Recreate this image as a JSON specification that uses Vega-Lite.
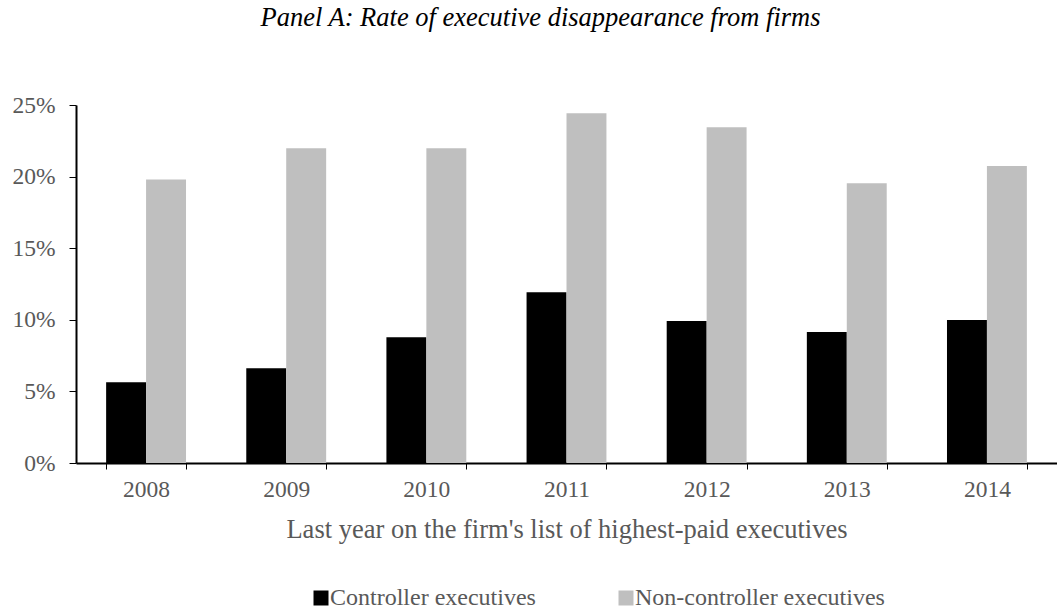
{
  "$schema": "https://vega.github.io/schema/vega-lite/v6.json",
  "autosize": "none",
  "padding": {"left": 76, "top": 105, "right": 0, "bottom": 149},
  "width": 981,
  "height": 358,
  "background": "white",
  "title": {
    "text": "Panel A: Rate of executive disappearance from firms",
    "font": "Liberation Serif",
    "fontStyle": "italic",
    "fontWeight": "normal",
    "fontSize": 26.5,
    "color": "#000000",
    "anchor": "middle",
    "dx": -26,
    "offset": 62
  },
  "data": {
    "values": [
      {"year": "2008", "group": "Controller executives", "rate": 0.0564},
      {"year": "2008", "group": "Non-controller executives", "rate": 0.198},
      {"year": "2009", "group": "Controller executives", "rate": 0.0661},
      {"year": "2009", "group": "Non-controller executives", "rate": 0.2198},
      {"year": "2010", "group": "Controller executives", "rate": 0.0878},
      {"year": "2010", "group": "Non-controller executives", "rate": 0.2198},
      {"year": "2011", "group": "Controller executives", "rate": 0.1192},
      {"year": "2011", "group": "Non-controller executives", "rate": 0.2442},
      {"year": "2012", "group": "Controller executives", "rate": 0.0992},
      {"year": "2012", "group": "Non-controller executives", "rate": 0.2344},
      {"year": "2013", "group": "Controller executives", "rate": 0.0915},
      {"year": "2013", "group": "Non-controller executives", "rate": 0.1953},
      {"year": "2014", "group": "Controller executives", "rate": 0.0999},
      {"year": "2014", "group": "Non-controller executives", "rate": 0.2074}
    ]
  },
  "mark": {"type": "bar"},
  "encoding": {
    "x": {
      "field": "year",
      "type": "nominal",
      "scale": {"paddingInner": 0.43, "paddingOuter": 0.215},
      "axis": {
        "title": "Last year on the firm's list of highest-paid executives",
        "labelAngle": 0,
        "tickBand": "extent",
        "domainColor": "#000000",
        "domainWidth": 2,
        "tickColor": "#000000",
        "tickSize": 6,
        "labelPadding": 8,
        "labelFont": "Liberation Serif",
        "labelFontSize": 23.5,
        "labelColor": "#595959",
        "titleFont": "Liberation Serif",
        "titleFontSize": 26.5,
        "titleFontWeight": "normal",
        "titleColor": "#595959",
        "titlePadding": 16
      }
    },
    "xOffset": {
      "field": "group",
      "type": "nominal",
      "sort": ["Controller executives", "Non-controller executives"]
    },
    "y": {
      "field": "rate",
      "type": "quantitative",
      "scale": {"domain": [0, 0.25], "nice": false},
      "axis": {
        "title": null,
        "values": [0, 0.05, 0.1, 0.15, 0.2, 0.25],
        "format": ".0%",
        "grid": false,
        "domainColor": "#000000",
        "domainWidth": 2,
        "tickColor": "#000000",
        "tickSize": 7,
        "labelPadding": 14,
        "labelFont": "Liberation Serif",
        "labelFontSize": 23.5,
        "labelColor": "#595959"
      }
    },
    "color": {
      "field": "group",
      "type": "nominal",
      "sort": ["Controller executives", "Non-controller executives"],
      "scale": {
        "domain": ["Controller executives", "Non-controller executives"],
        "range": ["#000000", "#BFBFBF"]
      },
      "legend": {
        "title": null,
        "orient": "none",
        "direction": "horizontal",
        "legendX": 233,
        "legendY": 481,
        "symbolType": "square",
        "symbolSize": 225,
        "symbolStrokeWidth": 0,
        "labelOffset": -3,
        "columnPadding": 78,
        "labelFont": "Liberation Serif",
        "labelFontSize": 24,
        "labelColor": "#595959",
        "labelLimit": 400
      }
    }
  },
  "config": {
    "view": {"stroke": null}
  }
}
